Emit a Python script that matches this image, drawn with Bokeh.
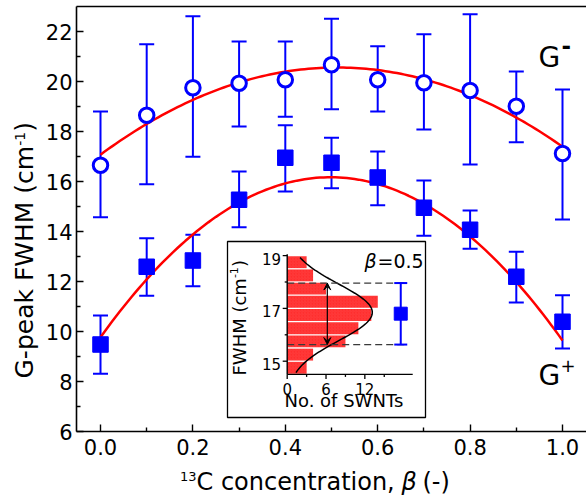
import numpy as np
from bokeh.plotting import figure
from bokeh.models import (Range1d, FixedTicker, PrintfTickFormatter, ColumnDataSource,
                          Whisker, TeeHead, Label, Arrow, VeeHead)
from bokeh.embed import file_html
from bokeh.resources import INLINE

# ---- main panel: G-band widths versus 13C fraction ----
beta = [0.0, 0.1, 0.2, 0.3, 0.4, 0.5, 0.6, 0.7, 0.8, 0.9, 1.0]

g_minus = [16.65, 18.65, 19.75, 19.93, 20.07, 20.67, 20.07, 19.95, 19.64, 19.01, 17.12]
g_minus_hi = [18.80, 21.49, 22.61, 21.60, 21.60, 22.51, 21.41, 21.89, 22.69, 20.40, 19.68]
g_minus_lo = [14.57, 15.89, 16.99, 18.20, 18.59, 18.89, 18.80, 18.08, 16.68, 17.57, 14.48]

g_plus = [9.48, 12.59, 12.84, 15.27, 16.95, 16.75, 16.16, 14.95, 14.07, 12.19, 10.39]
g_plus_hi = [10.64, 13.73, 13.87, 16.40, 18.25, 17.75, 17.20, 16.04, 14.84, 13.19, 11.45]
g_plus_lo = [8.31, 11.43, 11.81, 14.17, 15.60, 15.73, 15.05, 13.83, 13.31, 11.16, 9.32]

# parabolic fits: (peak value, peak position, curvature)
fit_minus = (20.56, 0.512, 13.3)
fit_plus = (16.17, 0.4975, 25.86)

x_ticks = [0.0, 0.2, 0.4, 0.6, 0.8, 1.0]
x_minor = [0.1, 0.3, 0.5, 0.7, 0.9]
y_ticks = [6, 8, 10, 12, 14, 16, 18, 20, 22]
y_minor = [7, 9, 11, 13, 15, 17, 19, 21]
y_lim = (6, 23)

# ---- inset: FWHM distribution of individual tubes at beta = 0.5 ----
hist_fwhm = [14.75, 15.25, 15.75, 16.25, 16.75, 17.25, 17.75, 18.25, 18.75]
hist_count = [3, 4, 9, 11, 13, 14, 6, 4, 3]
gauss_amp, gauss_mu, gauss_sigma = 13.15, 16.85, 1.07
gauss_span = (14.57, 18.93)
inset_mean, inset_lo, inset_hi = 16.8, 15.63, 17.96
inset_pos = 17.55
inset_arrow_x = 6.2
inset_y_ticks = [15, 17, 19]
inset_y_minor = [16, 18]
inset_x_ticks = [0, 6, 12]
inset_x_minor = [3, 9, 15]

BLUE = "#0000ff"
RED = "#ff0000"
FONT = "DejaVu Sans"
DESCENT = 0.236                          # font descender, in em

W, H = 586, 497
FRAME_L, FRAME_T, FRAME_B = 76, 6, 431   # plot-box edges in pixels
x0_px, px_per_x = 100.0, 462.0           # pixel of beta=0, pixels per unit beta
y6_px, px_per_y = 431.0, 25.0            # pixel of 6 cm-1, pixels per cm-1


def bx(px):
    return (px - x0_px) / px_per_x


def by(py):
    return 6 + (y6_px - py) / px_per_y


# inset geometry
u0_px, px_per_u = 286.7, 6.47           # inset count axis
v15_px, px_per_v = 360.7, 26.4          # inset FWHM axis


def iu(px):
    return (px - u0_px) / px_per_u


def iv(py):
    return 15 + (v15_px - py) / px_per_v


# the drawing area spans the whole canvas; axes sit at fixed positions inside it
p = figure(width=W, height=H, output_backend="svg", toolbar_location=None,
           x_range=Range1d(bx(0), bx(W)), y_range=Range1d(by(H), by(0)),
           min_border=0, min_border_left=0, min_border_right=0,
           min_border_top=0, min_border_bottom=0)
p.background_fill_color = "white"
p.border_fill_color = "white"
p.outline_line_color = None
p.xgrid.visible = False
p.ygrid.visible = False

for ax in (p.xaxis[0], p.yaxis[0]):
    ax.axis_line_width = 1.6
    ax.axis_line_color = "black"
    ax.major_tick_in = 7
    ax.major_tick_out = 0
    ax.minor_tick_in = 4
    ax.minor_tick_out = 0
    ax.major_tick_line_width = 1.4
    ax.minor_tick_line_width = 1.4
    ax.major_label_text_font = FONT
    ax.major_label_text_font_size = "21px"
    ax.major_label_text_color = "black"

p.xaxis.fixed_location = y_lim[0]
p.xaxis.bounds = (bx(FRAME_L), bx(W))
p.xaxis.ticker = FixedTicker(ticks=x_ticks, minor_ticks=x_minor)
p.xaxis.formatter = PrintfTickFormatter(format="%.1f")
p.xaxis.major_label_standoff = 7

p.yaxis.fixed_location = bx(FRAME_L)
p.yaxis.bounds = y_lim
p.yaxis.ticker = FixedTicker(ticks=y_ticks, minor_ticks=y_minor)
p.yaxis.major_label_standoff = 4

# top edge of the plot box
p.segment(x0=[bx(FRAME_L)], x1=[bx(W)], y0=[y_lim[1]], y1=[y_lim[1]],
          line_color="black", line_width=1.6)

# fitted parabolas
xs = np.linspace(0.0, 1.0, 121)
for peak, pos, curv in (fit_minus, fit_plus):
    p.line(xs, peak - curv * (xs - pos) ** 2, line_color=RED, line_width=2.5)

# error bars
for ys, lo, hi in ((g_minus, g_minus_lo, g_minus_hi), (g_plus, g_plus_lo, g_plus_hi)):
    src = ColumnDataSource(dict(x=beta, y=ys, lo=lo, hi=hi))
    p.add_layout(Whisker(source=src, base="x", upper="hi", lower="lo", dimension="height",
                         line_color=BLUE, line_width=2,
                         upper_head=TeeHead(size=15, line_color=BLUE, line_width=2),
                         lower_head=TeeHead(size=15, line_color=BLUE, line_width=2)))

p.scatter(beta, g_minus, marker="circle", size=14.5, fill_color="white",
          line_color=BLUE, line_width=3)
p.scatter(beta, g_plus, marker="square", size=15.5, fill_color=BLUE,
          line_color=BLUE, line_width=1)


def lab(px, py, text, size, rot=False, inset=False, **kw):
    """Place text whose baseline starts at pixel (px, py); rot=True reads bottom-to-top."""
    d = DESCENT * size
    if rot:
        px += d
        kw.update(angle=90, angle_units="deg")
    else:
        py += d
    if inset:
        x, y = iu(px), iv(py)
        kw.update(x_range_name="ix", y_range_name="iy")
    else:
        x, y = bx(px), by(py)
    kw.setdefault("text_font", FONT)
    p.add_layout(Label(x=x, y=y, text=text, text_font_size=f"{size}px",
                       text_baseline="bottom", text_color="black", **kw))


# band labels
lab(538, 66.7, "G", 28)
lab(561, 48.4, "-", 23, text_font_style="bold")
lab(538, 385, "G", 28)
lab(560, 366.8, "+", 18)

# x-axis title
lab(179.5, 477.5, "13", 13)
lab(196, 490, "C concentration,", 24)
lab(401, 490, "β", 24, text_font_style="italic")
lab(422, 490, "(-)", 24)

# y-axis title
lab(33, 378, "G-peak FWHM (cm", 25, rot=True)
lab(21, 145.3, "-1", 14, rot=True)
lab(33, 131.3, ")", 25, rot=True)

# ---- inset, drawn on its own pair of ranges ----
p.extra_x_ranges = {"ix": Range1d(iu(0), iu(W))}
p.extra_y_ranges = {"iy": Range1d(iv(H), iv(0))}
R = dict(x_range_name="ix", y_range_name="iy")

p.quad(left=iu(227), right=iu(425), top=iv(241), bottom=iv(417),
       fill_color="white", line_color="black", line_width=1.3, **R)

p.hbar(y=hist_fwhm, right=hist_count, left=0, height=0.45, fill_color="#ff2e2e",
       line_color=None, hatch_pattern="right_diagonal_line", hatch_color="#ffffff",
       hatch_alpha=0.12, hatch_scale=3, hatch_weight=0.5, **R)

gv = np.linspace(gauss_span[0], gauss_span[1], 120)
p.line(gauss_amp * np.exp(-(gv - gauss_mu) ** 2 / (2 * gauss_sigma ** 2)), gv,
       line_color="black", line_width=1.5, **R)

dash_end = 18.5
p.segment(x0=[0, 0], x1=[dash_end, dash_end], y0=[inset_hi, inset_lo], y1=[inset_hi, inset_lo],
          line_color="#3a3a3a", line_width=1.3, line_dash="7 4", **R)

p.add_layout(Arrow(x_start=inset_arrow_x, y_start=inset_lo, x_end=inset_arrow_x, y_end=inset_hi,
                   line_color="black", line_width=1.2,
                   start=VeeHead(size=7, fill_color="black", line_color="black", line_width=1),
                   end=VeeHead(size=7, fill_color="black", line_color="black", line_width=1), **R))

isrc = ColumnDataSource(dict(x=[inset_pos], lo=[inset_lo], hi=[inset_hi]))
p.add_layout(Whisker(source=isrc, base="x", upper="hi", lower="lo", dimension="height",
                     line_color=BLUE, line_width=2, level="annotation",
                     upper_head=TeeHead(size=13, line_color=BLUE, line_width=2),
                     lower_head=TeeHead(size=13, line_color=BLUE, line_width=2), **R))
p.scatter([inset_pos], [inset_mean], marker="square", size=13, fill_color=BLUE,
          line_color=BLUE, **R)

# inset axes
v_bottom, v_top, u_right = 14.5, 19.05, 19.4
p.segment(x0=[0, 0], y0=[v_bottom, v_bottom], x1=[0, u_right], y1=[v_top, v_bottom],
          line_color="black", line_width=1.4, **R)
yt = inset_y_ticks + inset_y_minor
ylen = [4.5 / px_per_u] * len(inset_y_ticks) + [2.5 / px_per_u] * len(inset_y_minor)
p.segment(x0=[0] * len(yt), x1=[-l for l in ylen], y0=yt, y1=yt,
          line_color="black", line_width=1.3, **R)
xt = inset_x_ticks + inset_x_minor
xlen = [4.5 / px_per_v] * len(inset_x_ticks) + [2.5 / px_per_v] * len(inset_x_minor)
p.segment(x0=xt, x1=xt, y0=[v_bottom] * len(xt), y1=[v_bottom - l for l in xlen],
          line_color="black", line_width=1.3, **R)

for t in inset_y_ticks:
    tick_py = v15_px - (t - 15) * px_per_v
    lab(280.5, tick_py + 5.4, str(t), 15, inset=True, text_align="right")
for t in inset_x_ticks:
    tick_px = u0_px + t * px_per_u
    lab(tick_px, 391, str(t), 15, inset=True, text_align="center")

lab(284, 406.7, "No. of SWNTs", 18, inset=True)
lab(245, 375, "FWHM (cm", 18, rot=True, inset=True)
lab(234.5, 277.6, "-1", 11, rot=True, inset=True)
lab(245, 266.6, ")", 18, rot=True, inset=True)
lab(364, 267, "β", 19, inset=True, text_font_style="italic")
lab(377, 267, "=0.5", 19, inset=True)

open("out.html", "w").write(file_html(p, INLINE))
